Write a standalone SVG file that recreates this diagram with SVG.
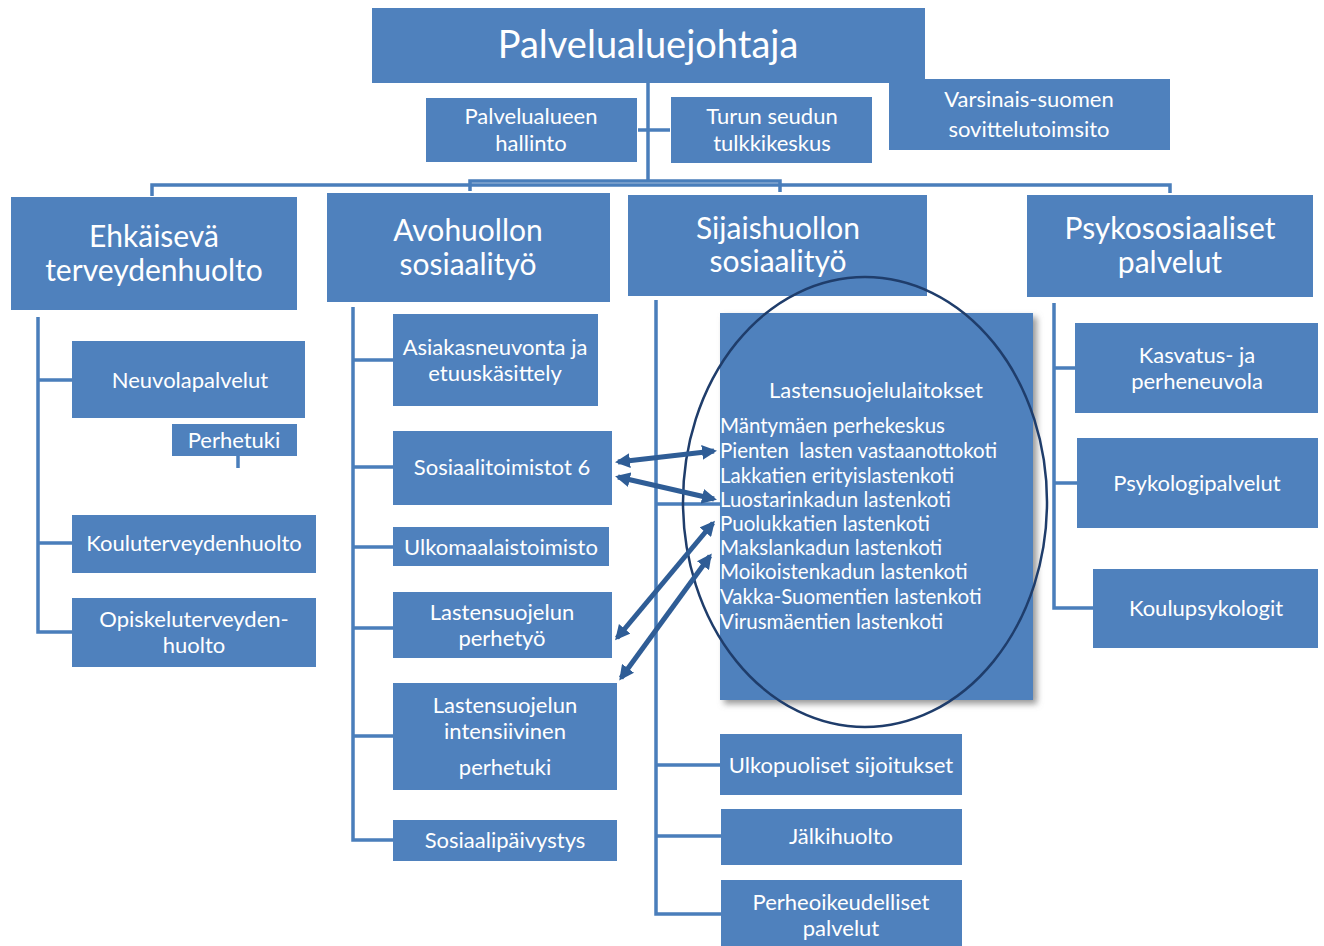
<svg xmlns="http://www.w3.org/2000/svg" width="1324" height="946" viewBox="0 0 1324 946">
<defs>
<style>
.box{fill:#4f81bd;}
.t{fill:#ffffff;font-family:Lato,"Open Sans","Noto Sans",sans-serif;text-anchor:middle;}
.big{font-size:38px;}
.l2{font-size:30px;}
.s{font-size:22px;}
.list{font-size:20.5px;text-anchor:start;}
.con{stroke:#4a7ebb;stroke-width:3.5;fill:none;}
.arr{stroke:#2f5d96;stroke-width:5;fill:none;marker-start:url(#ah);marker-end:url(#ah);}
</style>
<marker id="ah" viewBox="0 0 10 10" refX="8" refY="5" markerWidth="3" markerHeight="3" orient="auto-start-reverse" markerUnits="strokeWidth">
<path d="M0,0 L10,5 L0,10 z" fill="#2f5d96"/>
</marker>
<filter id="sh" x="-5%" y="-5%" width="115%" height="115%">
<feGaussianBlur in="SourceAlpha" stdDeviation="3"/>
<feOffset dx="4" dy="4" result="b"/>
<feFlood flood-color="#808080" flood-opacity="0.8"/>
<feComposite in2="b" operator="in"/>
<feMerge><feMergeNode/><feMergeNode in="SourceGraphic"/></feMerge>
</filter>
</defs>
<rect width="1324" height="946" fill="#ffffff"/>

<g id="connectors">
<path class="con" d="M648,83 V181"/>
<path class="con" d="M638,130 H670"/>
<path class="con" d="M152,196 V185 H1170 V193"/>
<path class="con" d="M470,191 V181 H780 V192"/>
<path class="con" d="M38,317 V632 H72 M38,380 H72 M38,543 H72"/>
<path class="con" d="M238,456 V468"/>
<path class="con" d="M353,307 V840 H393 M353,360 H393 M353,467 H393 M353,547 H393 M353,628 H393 M353,736 H393"/>
<path class="con" d="M656,300 V914 H721 M656,504 H720 M656,765 H720 M656,836 H721"/>
<path class="con" d="M1054,303 V608 H1093 M1054,368 H1075 M1054,483 H1077"/>
</g>

<g id="n-top"><rect class="box" x="372" y="8" width="553" height="75"/><text class="t big" x="648" y="58">Palvelualuejohtaja</text></g>
<g id="n-hallinto"><rect class="box" x="426" y="98" width="211" height="64"/><text class="t s" x="531" y="124">Palvelualueen</text><text class="t s" x="531" y="151">hallinto</text></g>
<g id="n-tulkki"><rect class="box" x="671" y="97" width="201" height="66"/><text class="t s" x="772" y="124">Turun seudun</text><text class="t s" x="772" y="151">tulkkikeskus</text></g>
<g id="n-sovittelu"><rect class="box" x="889" y="79" width="281" height="71"/><text class="t s" x="1029" y="107">Varsinais-suomen</text><text class="t s" x="1029" y="137">sovittelutoimsito</text></g>

<g id="n-ehk"><rect class="box" x="11" y="197" width="286" height="113"/><text class="t l2" x="154" y="247">Ehkäisevä</text><text class="t l2" x="154" y="281">terveydenhuolto</text></g>
<g id="n-avo"><rect class="box" x="327" y="193" width="283" height="109"/><text class="t l2" x="468" y="241">Avohuollon</text><text class="t l2" x="468" y="275">sosiaalityö</text></g>
<g id="n-sij"><rect class="box" x="628" y="195" width="299" height="101"/><text class="t l2" x="778" y="239">Sijaishuollon</text><text class="t l2" x="778" y="272">sosiaalityö</text></g>
<g id="n-psy"><rect class="box" x="1027" y="195" width="286" height="102"/><text class="t l2" x="1170" y="239">Psykososiaaliset</text><text class="t l2" x="1170" y="273">palvelut</text></g>

<g id="n-neuvola"><rect class="box" x="72" y="341" width="233" height="77"/><text class="t s" x="190" y="388">Neuvolapalvelut</text></g>
<g id="n-perhetuki"><rect class="box" x="172" y="424" width="125" height="32"/><text class="t s" x="234" y="448">Perhetuki</text></g>
<g id="n-koulut"><rect class="box" x="72" y="515" width="244" height="58"/><text class="t s" x="194" y="551">Kouluterveydenhuolto</text></g>
<g id="n-opisk"><rect class="box" x="72" y="598" width="244" height="69"/><text class="t s" x="194" y="627">Opiskeluterveyden-</text><text class="t s" x="194" y="653">huolto</text></g>

<g id="n-asiakas"><rect class="box" x="393" y="314" width="205" height="92"/><text class="t s" x="495" y="355">Asiakasneuvonta ja</text><text class="t s" x="495" y="381">etuuskäsittely</text></g>
<g id="n-sostoim"><rect class="box" x="393" y="431" width="219" height="74"/><text class="t s" x="502" y="475">Sosiaalitoimistot 6</text></g>
<g id="n-ulkom"><rect class="box" x="393" y="527" width="216" height="39"/><text class="t s" x="501" y="555">Ulkomaalaistoimisto</text></g>
<g id="n-perhetyo"><rect class="box" x="393" y="592" width="219" height="66"/><text class="t s" x="502" y="620">Lastensuojelun</text><text class="t s" x="502" y="646">perhetyö</text></g>
<g id="n-intens"><rect class="box" x="393" y="683" width="224" height="107"/><text class="t s" x="505" y="713">Lastensuojelun</text><text class="t s" x="505" y="739">intensiivinen</text><text class="t s" x="505" y="775">perhetuki</text></g>
<g id="n-paivystys"><rect class="box" x="393" y="820" width="224" height="41"/><text class="t s" x="505" y="848">Sosiaalipäivystys</text></g>

<g id="n-laitokset"><rect class="box" x="720" y="313" width="313" height="387" filter="url(#sh)"/>
<text class="t s" x="876" y="398">Lastensuojelulaitokset</text>
<text class="t list" x="720" y="433">Mäntymäen perhekeskus</text>
<text class="t list" x="720" y="458" xml:space="preserve">Pienten  lasten vastaanottokoti</text>
<text class="t list" x="720" y="483">Lakkatien erityislastenkoti</text>
<text class="t list" x="720" y="507">Luostarinkadun lastenkoti</text>
<text class="t list" x="720" y="531">Puolukkatien lastenkoti</text>
<text class="t list" x="720" y="555">Makslankadun lastenkoti</text>
<text class="t list" x="720" y="579">Moikoistenkadun lastenkoti</text>
<text class="t list" x="720" y="604">Vakka-Suomentien lastenkoti</text>
<text class="t list" x="720" y="629">Virusmäentien lastenkoti</text>
</g>
<g id="n-ellipse"><ellipse cx="865" cy="502" rx="182" ry="225" fill="none" stroke="#1f3d6b" stroke-width="2.5"/></g>

<g id="n-ulkop"><rect class="box" x="720" y="734" width="242" height="61"/><text class="t s" x="841" y="773">Ulkopuoliset sijoitukset</text></g>
<g id="n-jalki"><rect class="box" x="721" y="809" width="241" height="56"/><text class="t s" x="841" y="844">Jälkihuolto</text></g>
<g id="n-perheoik"><rect class="box" x="721" y="880" width="241" height="66"/><text class="t s" x="841" y="910">Perheoikeudelliset</text><text class="t s" x="841" y="936">palvelut</text></g>

<g id="n-kasvatus"><rect class="box" x="1075" y="323" width="243" height="90"/><text class="t s" x="1197" y="363">Kasvatus- ja</text><text class="t s" x="1197" y="389">perheneuvola</text></g>
<g id="n-psykolog"><rect class="box" x="1077" y="438" width="241" height="90"/><text class="t s" x="1197" y="491">Psykologipalvelut</text></g>
<g id="n-koulupsy"><rect class="box" x="1093" y="569" width="225" height="79"/><text class="t s" x="1206" y="616">Koulupsykologit</text></g>

<g id="arrows">
<path class="arr" d="M618,462 L714,451"/>
<path class="arr" d="M618,477 L714,499"/>
<path class="arr" d="M617,638 L713,523"/>
<path class="arr" d="M621,678 L710,556"/>
</g>
</svg>
